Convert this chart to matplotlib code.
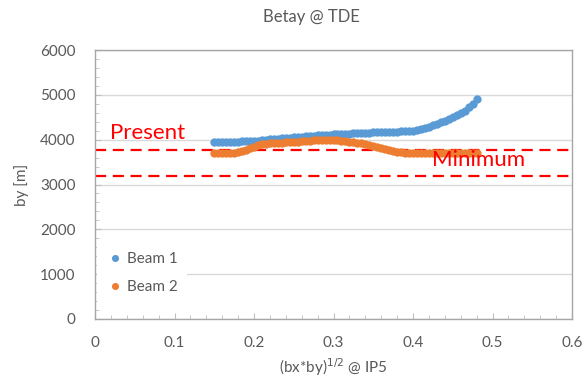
import matplotlib
matplotlib.use("Agg")
import matplotlib.pyplot as plt
from matplotlib.ticker import MultipleLocator

title = "Betay @ TDE"
x_label = r"(bx*by)$^{1/2}$ @ IP5"
y_label = "by [m]"
series_names = ["Beam 1", "Beam 2"]

x_vals = [0.150, 0.155, 0.160, 0.165, 0.170, 0.175, 0.180, 0.185, 0.190, 0.195,
          0.200, 0.205, 0.210, 0.215, 0.220, 0.225, 0.230, 0.235, 0.240, 0.245,
          0.250, 0.255, 0.260, 0.265, 0.270, 0.275, 0.280, 0.285, 0.290, 0.295,
          0.300, 0.305, 0.310, 0.315, 0.320, 0.325, 0.330, 0.335, 0.340, 0.345,
          0.350, 0.355, 0.360, 0.365, 0.370, 0.375, 0.380, 0.385, 0.390, 0.395,
          0.400, 0.405, 0.410, 0.415, 0.420, 0.425, 0.430, 0.435, 0.440, 0.445,
          0.450, 0.455, 0.460, 0.465, 0.470, 0.475, 0.480]

beam1 = [3950, 3950, 3950, 3952, 3954, 3956, 3958, 3961, 3965, 3969,
         3974, 3981, 3988, 3996, 4004, 4012, 4020, 4028, 4036, 4044,
         4052, 4060, 4068, 4076, 4084, 4090, 4096, 4102, 4108, 4113,
         4118, 4122, 4127, 4132, 4137, 4142, 4147, 4151, 4155, 4159,
         4163, 4167, 4170, 4173, 4176, 4179, 4182, 4185, 4188, 4192,
         4198, 4212, 4235, 4262, 4292, 4325, 4358, 4392, 4427, 4463,
         4502, 4545, 4592, 4645, 4720, 4805, 4900]

beam2 = [3698, 3698, 3700, 3702, 3706, 3712, 3722, 3745, 3778, 3812,
         3845, 3872, 3893, 3906, 3915, 3922, 3928, 3934, 3940, 3946,
         3952, 3958, 3965, 3972, 3978, 3983, 3987, 3990, 3991, 3990,
         3988, 3984, 3978, 3968, 3957, 3944, 3930, 3915, 3898, 3880,
         3860, 3840, 3818, 3795, 3772, 3750, 3732, 3718, 3708, 3702,
         3700, 3700, 3700, 3701, 3701, 3702, 3702, 3703, 3703, 3704,
         3704, 3705, 3705, 3706, 3706, 3707, 3708]

ref_levels = [3770, 3200]
ref_names = ["Present", "Minimum"]

blue = "#5B9BD5"
orange = "#ED7D31"
gray_text = "#595959"

plt.rcParams['font.family'] = ['Lato', 'DejaVu Sans']

fig = plt.figure(figsize=(5.84, 3.82), dpi=100)
ax = fig.add_axes([95/584, 1-319/382, (572-95)/584, (319-50)/382])

ax.plot(x_vals, beam1, 'o', color=blue, markersize=6, markeredgewidth=0, label=series_names[0], zorder=3)
ax.plot(x_vals, beam2, 'o', color=orange, markersize=6, markeredgewidth=0, label=series_names[1], zorder=3)

for lvl in ref_levels:
    ax.axhline(lvl, color="#FF0000", linewidth=1.6, dashes=(5, 3), zorder=2)

ax.text(0.019, 4150, ref_names[0], color="#FF0000", fontsize=16, ha='left', va='center')
ax.text(0.424, 3540, ref_names[1], color="#FF0000", fontsize=16, ha='left', va='center')

ax.set_xlim(0, 0.6)
ax.set_ylim(0, 6000)
ax.xaxis.set_minor_locator(MultipleLocator(0.02))
ax.yaxis.set_minor_locator(MultipleLocator(200))
ax.set_xticks([0, 0.1, 0.2, 0.3, 0.4, 0.5, 0.6])
ax.set_xticklabels(["0", "0.1", "0.2", "0.3", "0.4", "0.5", "0.6"])
ax.set_yticks([0, 1000, 2000, 3000, 4000, 5000, 6000])
ax.set_yticklabels(["0", "1000", "2000", "3000", "4000", "5000", "6000"])

ax.grid(axis='y', which='major', color="#D9D9D9", linewidth=1.0, zorder=0)
ax.set_axisbelow(True)
for s in ax.spines.values():
    s.set_color("#A6A6A6")
    s.set_linewidth(1.0)
ax.tick_params(axis='both', which='major', direction='in', length=4, color="#BFBFBF",
               labelcolor=gray_text, labelsize=11)
ax.tick_params(axis='both', which='minor', direction='in', length=3, color="#BFBFBF")
ax.tick_params(axis='y', which='major', pad=14)
ax.tick_params(axis='x', which='major', pad=12)

ax.set_xlabel(x_label, color=gray_text, fontsize=11, labelpad=5)
ax.set_ylabel(y_label, color=gray_text, fontsize=11, labelpad=8)

fig.text(311/584, 1-17/382, title, color=gray_text, fontsize=12, ha='center', va='center')

leg = ax.legend(loc='lower left', bbox_to_anchor=(-0.012, 0.03), frameon=True, fontsize=11,
                markerscale=0.85, handletextpad=0.2, labelspacing=0.9, borderpad=0.6,
                handlelength=1.2)
leg.get_frame().set_facecolor('white')
leg.get_frame().set_edgecolor('none')
leg.get_frame().set_alpha(1.0)
for t in leg.get_texts():
    t.set_color(gray_text)

fig.savefig("out.png", dpi=100)
